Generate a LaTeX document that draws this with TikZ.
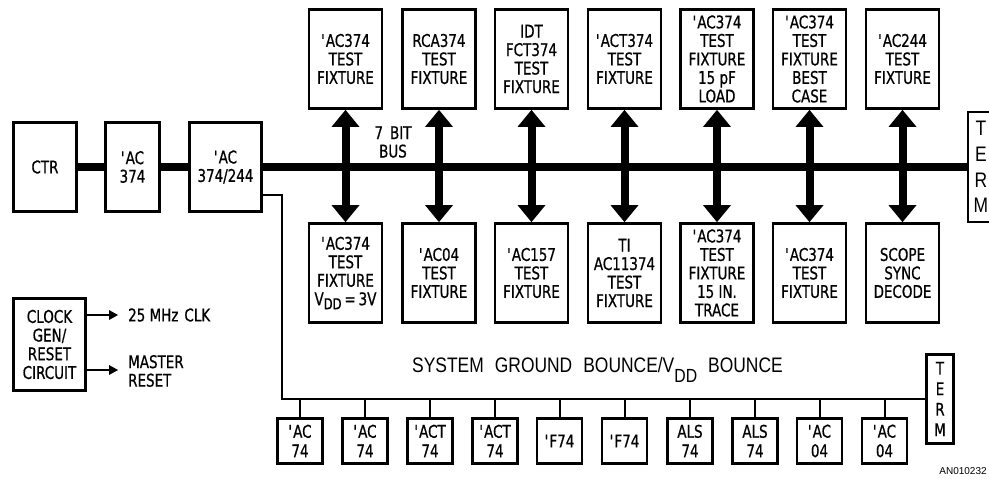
\documentclass[tikz,border=0pt]{standalone}
\usepackage{fontspec}
\usetikzlibrary{arrows.meta}
\newfontfamily\dfont[FakeStretch=0.77,FakeBold=0.7]{DejaVu Sans}
\newfontfamily\lfont[FakeStretch=0.83]{Liberation Sans}
\newfontfamily\afont{Liberation Sans}
\newcommand\myq{\textquotesingle}
\newcommand\myvdd{V\raisebox{-4pt}{\fontsize{15}{15}\selectfont DD}}
\begin{document}
\begin{tikzpicture}[x=1pt,y=-1pt,
 box/.style={draw, line width=2.8pt, inner sep=0pt, align=center, font=\dfont\fontsize{17.5}{18.5}\selectfont},
 fix/.style={box, minimum width=73pt, minimum height=99pt},
 small/.style={box, minimum width=45pt, minimum height=45pt, font=\dfont\fontsize{17.5}{19.5}\selectfont},
 bus/.style={line width=8pt},
 busarrow/.style={line width=8pt, {Triangle[width=28pt,length=17pt,line width=0pt]}-{Triangle[width=28pt,length=17pt,line width=0pt]}},
 thinline/.style={line width=2pt},
 clkarrow/.style={line width=2pt, -{Triangle[width=10pt,length=9pt,line width=0pt]}},
 txt/.style={inner sep=0pt, align=center, font=\dfont\fontsize{17.5}{18.5}\selectfont},
 bigtxt/.style={inner sep=0pt, font=\lfont\fontsize{21}{25.7}\selectfont},
]
\useasboundingbox (0,0) rectangle (989,479);
\clip (0,0) rectangle (989,479);

% left chain
\node[box, minimum width=63pt, minimum height=89pt] (ctr) at (45,167) {CTR};
\node[box, minimum width=54pt, minimum height=89pt] (ac1) at (132.5,167) {\myq AC\\374};
\node[box, minimum width=72pt, minimum height=89pt] (ac2) at (225.5,167) {\myq AC\\374/244};

% right TERM
\node[draw, line width=2pt, inner sep=0pt, minimum width=26pt, minimum height=110pt, align=center,
      font=\lfont\fontsize{21}{25.7}\selectfont] (term1) at (981,167) {T\\E\\R\\M};

% top fixtures
\node[fix] (t1) at (345.5,59) {\myq AC374\\TEST\\FIXTURE};
\node[fix] (t2) at (439,59) {RCA374\\TEST\\FIXTURE};
\node[fix] (t3) at (531.5,59) {IDT\\FCT374\\TEST\\FIXTURE};
\node[fix] (t4) at (624.5,59) {\myq ACT374\\TEST\\FIXTURE};
\node[fix] (t5) at (717,59) {\myq AC374\\TEST\\FIXTURE\\15 pF\\LOAD};
\node[fix] (t6) at (809.5,59) {\myq AC374\\TEST\\FIXTURE\\BEST\\CASE};
\node[fix] (t7) at (902.5,59) {\myq AC244\\TEST\\FIXTURE};

% bottom fixtures
\node[fix] (b1) at (345.5,273) {\myq AC374\\TEST\\FIXTURE\\\myvdd\,=\,3V};
\node[fix] (b2) at (439,273) {\myq AC04\\TEST\\FIXTURE};
\node[fix] (b3) at (531.5,273) {\myq AC157\\TEST\\FIXTURE};
\node[fix] (b4) at (624.5,273) {TI\\AC11374\\TEST\\FIXTURE};
\node[fix] (b5) at (717,273) {\myq AC374\\TEST\\FIXTURE\\15 IN.\\TRACE};
\node[fix] (b6) at (809.5,273) {\myq AC374\\TEST\\FIXTURE};
\node[fix] (b7) at (902.5,273) {SCOPE\\SYNC\\DECODE};

% bus
\draw[bus] (ctr) -- (ac1);
\draw[bus] (ac1) -- (ac2);
\draw[bus] (ac2) -- (term1);
\foreach \i in {1,...,7} { \draw[busarrow] (t\i) -- (b\i); }
\node[txt] (busl) at (393,142) {7\hspace{7pt}BIT\\BUS};

% clock generator
\node[box, minimum width=72pt, minimum height=92pt, font=\dfont\fontsize{17.5}{18.7}\selectfont] (clk) at (49.5,344.5) {CLOCK\\GEN/\\RESET\\CIRCUIT};
\coordinate (ck1) at (118,315);
\coordinate (ck2) at (118,370);
\draw[clkarrow] (clk.east |- ck1) -- (ck1);
\draw[clkarrow] (clk.east |- ck2) -- (ck2);
\node[txt, anchor=west] (ckl1) at (128,315) {25 MHz\hspace{6pt}CLK};
\node[txt, anchor=west, align=left] (ckl2) at (128,371) {MASTER\\RESET};

% ground bounce bus
\node[box, minimum width=27pt, minimum height=89pt, font=\dfont\fontsize{17.5}{20.5}\selectfont] (term2) at (940,399) {T\\E\\R\\M};
\node[small] (s1) at (300,441) {\myq AC\\74};
\node[small] (s2) at (365,441) {\myq AC\\74};
\node[small] (s3) at (430,441) {\myq ACT\\74};
\node[small] (s4) at (495,441) {\myq ACT\\74};
\node[small] (s5) at (559.5,441) {\myq F74};
\node[small] (s6) at (624.5,441) {\myq F74};
\node[small] (s7) at (690,441) {ALS\\74};
\node[small] (s8) at (755,441) {ALS\\74};
\node[small] (s9) at (819.5,441) {\myq AC\\04};
\node[small] (s10) at (884.5,441) {\myq AC\\04};
\draw[thinline] ([yshift=-28pt]ac2.east) -- ++(19,0) |- (term2.west);
\foreach \i in {1,...,10} { \draw[thinline] (s\i.north) -- (s\i.north |- term2.west); }

\node[bigtxt, anchor=base west] (sgb) at (412,372) {SYSTEM\hspace{11pt}GROUND\hspace{11pt}BOUNCE/V\raisebox{-10pt}{\fontsize{19}{19}\selectfont DD}\hspace{11pt}BOUNCE};

\node[inner sep=0pt, font=\afont\fontsize{10}{12}\selectfont] (an) at (963,471) {AN010232};
\end{tikzpicture}
\end{document}
